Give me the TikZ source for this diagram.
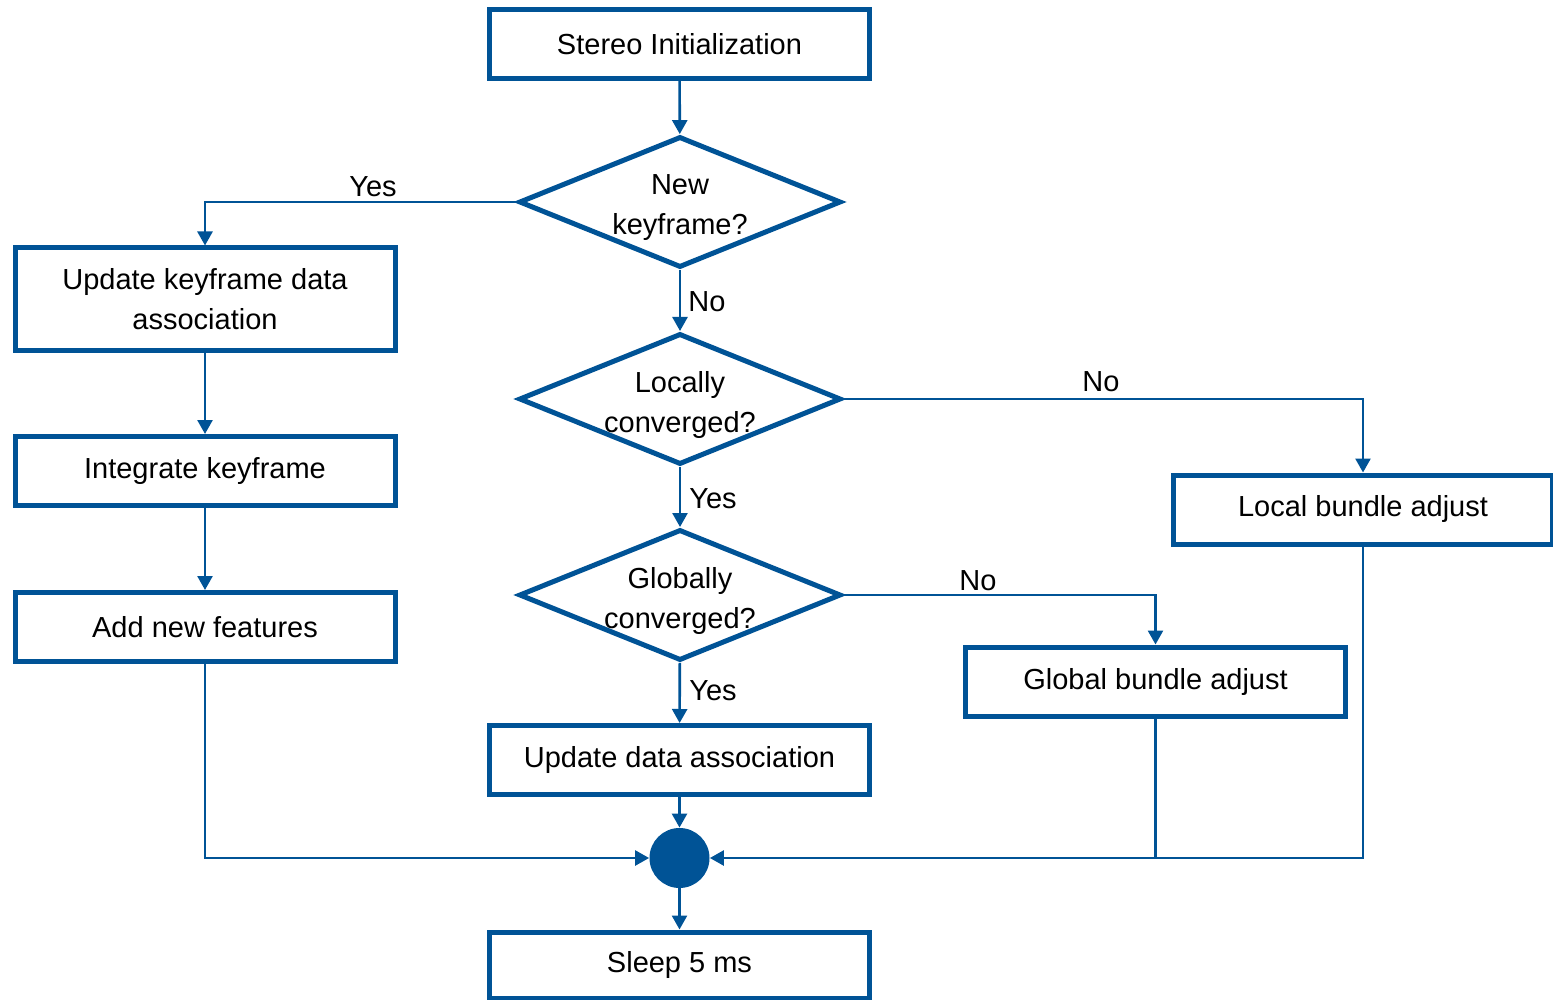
\documentclass[tikz,border=0pt]{standalone}
\usepackage{fontspec}
\setmainfont{Liberation Sans}
\usetikzlibrary{shapes.geometric,arrows.meta}
\definecolor{fcblue}{RGB}{0,83,150}
\begin{document}
\begin{tikzpicture}[x=0.5pt,y=-0.5pt,
  every node/.style={font=\fontsize{14.5}{20}\selectfont, align=center, text=black},
  procbox/.style={draw=fcblue, line width=2.5pt, rectangle, inner sep=0pt, minimum width=190pt, minimum height=34.5pt},
  decbox/.style={draw=fcblue, line width=2.5pt, diamond, aspect=2.46, inner sep=0pt, minimum width=161pt, minimum height=65.5pt},
  dectext/.style={inner sep=0pt, yshift=-3pt},
  joint/.style={circle, fill=fcblue, draw=none, minimum size=30pt, inner sep=0pt},
  conn/.style={draw=fcblue, line width=1.3pt, -{Triangle[length=7pt,width=7.5pt]}},
  plainconn/.style={draw=fcblue, line width=1.3pt},
  lbl/.style={inner sep=0pt}
]
\useasboundingbox (0,0) rectangle (1553,1000);
% process boxes
\node[procbox] (stereo) at (679.5,44) {Stereo Initialization};
\node[decbox] (d1) at (680,202) {};
\node[dectext] (d1t) at (d1) {New\\keyframe?};
\node[decbox] (d2) at (680,399) {};
\node[dectext] (d2t) at (d2) {Locally\\converged?};
\node[decbox] (d3) at (680,595) {};
\node[dectext] (d3t) at (d3) {Globally\\converged?};
\node[procbox] (uda) at (679.5,760) {Update data association};
\node[joint] (circ) at (679.5,858) {};
\node[procbox, minimum height=33pt] (sleep) at (679.5,965) {Sleep 5 ms};
\node[procbox, minimum height=51pt] (ukda) at (205,299) {Update keyframe data\\association};
\node[procbox] (integ) at (205,471) {Integrate keyframe};
\node[procbox] (addnf) at (205,627) {Add new features};
\node[procbox, minimum width=189.5pt] (lba) at (1363,509.5) {Local bundle adjust};
\node[procbox] (gba) at (1155.5,681.5) {Global bundle adjust};
\coordinate (join) at (gba |- circ);
% connectors
\draw[conn] (stereo) -- (d1);
\draw[conn] (d1.west) -| (ukda);
\draw[conn] (d1) -- (d2);
\draw[conn] (ukda) -- (integ);
\draw[conn] (integ) -- (addnf);
\draw[conn] (addnf) |- (circ);
\draw[conn] (d2.east) -| (lba);
\draw[conn] (d2) -- (d3);
\draw[conn] (d3.east) -| (gba);
\draw[conn] (d3) -- (uda);
\draw[conn] (uda) -- (circ);
\draw[conn] (gba) |- (circ);
\draw[plainconn] (lba) |- (join);
\draw[conn] (circ) -- (sleep);
% labels
\node[lbl] (lyes1) at (373,187) {Yes};
\node[lbl] (lno1) at (707,302) {No};
\node[lbl] (lno2) at (1101,382) {No};
\node[lbl] (lyes2) at (713,499) {Yes};
\node[lbl] (lno3) at (978,581) {No};
\node[lbl] (lyes3) at (713,691) {Yes};
\end{tikzpicture}
\end{document}
